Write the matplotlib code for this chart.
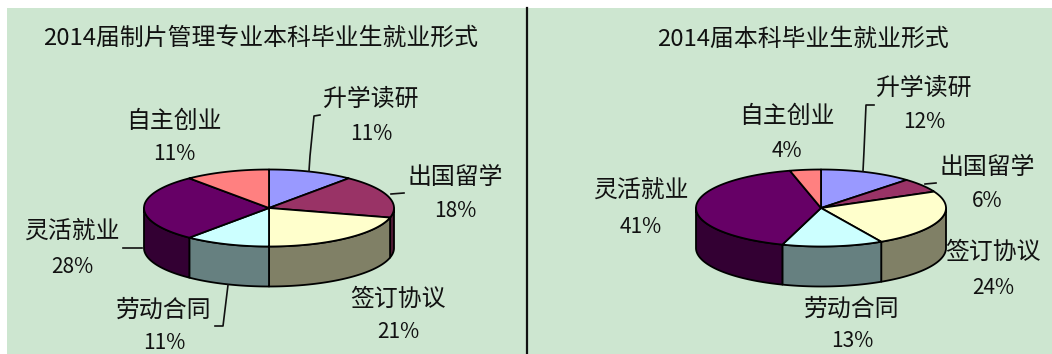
import numpy as np
from matplotlib import pyplot as plt
from matplotlib.patches import Rectangle

# no narrow latin face here, digits and % come from the CJK family too
FONTS = ['Noto Sans CJK SC', 'DejaVu Sans']

categories = ['升学读研', '出国留学', '签订协议', '劳动合同', '灵活就业', '自主创业']
values_left = [11, 18, 21, 11, 28, 11]
values_right = [12, 6, 24, 13, 41, 4]
title_left = '2014届制片管理专业本科毕业生就业形式'
title_right = '2014届本科毕业生就业形式'

top_colors = ['#9999FF', '#993366', '#FFFFCC', '#CCFFFF', '#660066', '#FF8080']
wall_colors = ['#4D4D80', '#4D1A33', '#808066', '#668080', '#330033', '#804040']
BG = '#CDE6D0'

# label centres in pixels, same order as categories: (name x, name y, pct y)
labels_left = [(371, 99, 134), (455, 178, 211), (398, 299, 332),
               (164, 310, 343), (72, 231, 267), (174, 121, 154)]
labels_right = [(924, 88, 122), (987, 167, 201), (993, 252, 288),
                (852, 309, 341), (641, 190, 227), (787, 116, 151)]

leaders_left = [[(309, 171), (310, 156), (314, 116), (320, 115)],
                [(391, 194), (404, 193)],
                [(123, 248), (142, 248)],
                [(228, 285), (223, 326), (215, 326)]]
leaders_right = [[(863, 171), (864, 151), (866, 105), (874, 105)],
                 [(925, 184), (936, 183)]]


def draw_pie(ax, values, cx, cy=208, rx=125, ry=38.5, depth=40):
    edges = np.radians(np.cumsum([0] + values) * 3.6)  # clockwise from 12 o'clock
    # walls first, only the front half of the rim can be seen
    for i in range(len(values)):
        t0 = max(edges[i], np.pi / 2)
        t1 = min(edges[i + 1], 3 * np.pi / 2)
        if t1 <= t0:
            continue
        t = np.linspace(t0, t1, 80)
        x = cx + rx * np.sin(t)
        y = cy - ry * np.cos(t)
        ax.fill(np.r_[x, x[::-1]], np.r_[y, y[::-1] + depth],
                facecolor=wall_colors[i], edgecolor='black', lw=1.3, joinstyle='round')
    for i in range(len(values)):
        t = np.linspace(edges[i], edges[i + 1], 120)
        x = cx + rx * np.sin(t)
        y = cy - ry * np.cos(t)
        ax.fill(np.r_[cx, x], np.r_[cy, y],
                facecolor=top_colors[i], edgecolor='black', lw=1.3, joinstyle='round')


def draw_labels(ax, values, positions):
    for name, val, (x, y, y2) in zip(categories, values, positions):
        ax.text(x, y, name, ha='center', va='center', fontsize=17.2,
                family=FONTS, color='#111111')
        ax.text(x, y2, '%d%%' % val, ha='center', va='center', fontsize=15,
                family=FONTS, color='#111111')


def main():
    fig = plt.figure(figsize=(10.52, 3.54), dpi=100, facecolor='white')
    ax = fig.add_axes([0, 0, 1, 1])
    ax.set_xlim(0, 1052)
    ax.set_ylim(354, 0)
    ax.axis('off')

    ax.add_patch(Rectangle((7, 8), 1045, 346, facecolor=BG, edgecolor='none'))
    ax.plot([526.5, 526.5], [8, 354], color='#111111', lw=1.6)

    ax.text(261, 38, title_left, ha='center', va='center', fontsize=17.2,
            family=FONTS, color='#111111')
    ax.text(803, 39, title_right, ha='center', va='center', fontsize=17.2,
            family=FONTS, color='#111111')

    draw_pie(ax, values_left, 269)
    draw_pie(ax, values_right, 821)
    draw_labels(ax, values_left, labels_left)
    draw_labels(ax, values_right, labels_right)

    for line in leaders_left + leaders_right:
        xs, ys = zip(*line)
        ax.plot(xs, ys, color='#111111', lw=1.2)

    fig.savefig('out.png', dpi=100)
    plt.close(fig)


if __name__ == '__main__':
    main()
